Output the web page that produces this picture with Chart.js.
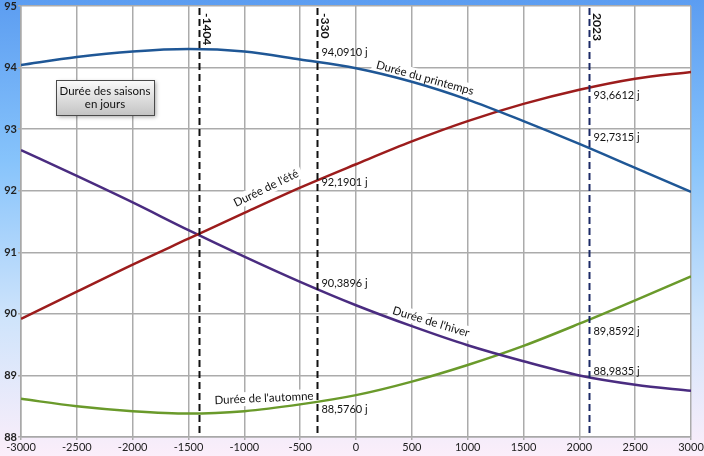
<!DOCTYPE html>
<html>
<head>
<meta charset="utf-8">
<script src="https://cdn.jsdelivr.net/npm/chart.js@4.4.1/dist/chart.umd.min.js"></script>
<style>
  body { margin: 0; }
</style>
</head>
<body>
<canvas id="myChart" width="704" height="456"></canvas>
<script>
// Données
const years = [-3000, -2500, -2000, -1500, -1000, -500, 0, 500, 1000, 1500, 2000, 2500, 3000];
const printemps = [94.04, 94.17, 94.26, 94.30, 94.26, 94.13, 93.99, 93.77, 93.48, 93.13, 92.76, 92.37, 91.98];
const ete = [89.92, 90.36, 90.80, 91.22, 91.64, 92.05, 92.43, 92.80, 93.13, 93.41, 93.64, 93.82, 93.93];
const hiver = [92.66, 92.24, 91.81, 91.36, 90.93, 90.52, 90.14, 89.80, 89.49, 89.23, 89.00, 88.85, 88.75];
const automne = [88.62, 88.50, 88.42, 88.38, 88.42, 88.53, 88.68, 88.90, 89.17, 89.48, 89.84, 90.22, 90.61];

// Lignes verticales
const markerYears = [-1404, -345, 2090];
const markerLabels = ['-1404', '-330', '2023'];
const markerColors = ['#111111', '#111111', '#1c2a66'];

// Valeurs affichées à côté des lignes
const noteX = [-345, -345, -345, -345, 2090, 2090, 2090, 2090];
const noteY = [94.24, 92.13, 90.50, 88.44, 93.54, 92.87, 89.72, 89.07];
const noteText = ['94,0910 j', '92,1901 j', '90,3896 j', '88,5760 j', '93,6612 j', '92,7315 j', '89,8592 j', '88,9835 j'];

// Étiquettes des courbes
const curveText = ['Durée du printemps', "Durée de l'été", "Durée de l'hiver", "Durée de l'automne"];
const curveX = [618, -806, 672, -824];
const curveY = [93.83, 92.04, 89.87, 88.63];
const curveAngle = [15.5, -26, 17, -2.6];

const FONT = 'Lato, "Liberation Sans", sans-serif';

function toPoints(values) {
    return years.map((x, i) => ({ x: x, y: values[i] }));
}

// Fond dégradé + zone de tracé blanche
const backgroundPlugin = {
    id: 'background',
    beforeDraw(chart) {
        const { ctx, width, height, chartArea: a } = chart;
        const g = ctx.createLinearGradient(0, 0, 0, height);
        g.addColorStop(0, '#5c9df1');
        g.addColorStop(0.35, '#86c3fb');
        g.addColorStop(0.7, '#cfe4fb');
        g.addColorStop(1, '#fbeefa');
        ctx.save();
        ctx.fillStyle = g;
        ctx.fillRect(0, 0, width, height);
        ctx.fillStyle = '#ffffff';
        ctx.fillRect(a.left, a.top, a.right - a.left, a.bottom - a.top);
        ctx.restore();
    }
};

// Noms des courbes (fond blanc qui coupe la grille)
const curveLabelPlugin = {
    id: 'curveLabels',
    beforeDatasetsDraw(chart) {
        const { ctx, scales } = chart;
        ctx.save();
        ctx.font = '11.5px ' + FONT;
        ctx.textAlign = 'center';
        ctx.textBaseline = 'middle';
        curveText.forEach((t, i) => {
            const px = scales.x.getPixelForValue(curveX[i]);
            const py = scales.y.getPixelForValue(curveY[i]);
            const w = ctx.measureText(t).width;
            ctx.save();
            ctx.translate(px, py);
            ctx.rotate(curveAngle[i] * Math.PI / 180);
            ctx.fillStyle = '#ffffff';
            ctx.fillRect(-w / 2 - 4, -7, w + 8, 14);
            ctx.fillStyle = '#111111';
            ctx.fillText(t, 0, 0);
            ctx.restore();
        });
        ctx.restore();
    }
};

// Lignes pointillées, valeurs et cadre titre
const markerPlugin = {
    id: 'markers',
    afterDatasetsDraw(chart) {
        const { ctx, scales, chartArea: a } = chart;
        ctx.save();
        markerYears.forEach((yr, i) => {
            const px = Math.round(scales.x.getPixelForValue(yr)) + 0.5;
            ctx.strokeStyle = markerColors[i];
            ctx.lineWidth = 2;
            ctx.setLineDash([7, 4]);
            ctx.beginPath();
            ctx.moveTo(px, a.top + 2);
            ctx.lineTo(px, a.bottom);
            ctx.stroke();

            ctx.save();
            ctx.translate(px + 7, a.top + 7);
            ctx.rotate(Math.PI / 2);
            ctx.font = 'bold 12px ' + FONT;
            ctx.fillStyle = '#111111';
            ctx.textAlign = 'left';
            ctx.textBaseline = 'middle';
            ctx.fillText(markerLabels[i], 0, 0);
            ctx.restore();
        });
        ctx.setLineDash([]);

        ctx.font = '11px ' + FONT;
        ctx.fillStyle = '#111111';
        ctx.textAlign = 'left';
        ctx.textBaseline = 'middle';
        noteText.forEach((t, i) => {
            const px = scales.x.getPixelForValue(noteX[i]);
            const py = scales.y.getPixelForValue(noteY[i]);
            ctx.fillText(t, px + 4, py);
        });

        // Cadre "Durée des saisons en jours"
        const bx = a.left + 35, by = a.top + 74, bw = 98, bh = 35;
        ctx.save();
        ctx.shadowColor = 'rgba(0,0,0,0.35)';
        ctx.shadowBlur = 4;
        ctx.shadowOffsetX = 2;
        ctx.shadowOffsetY = 2;
        const g = ctx.createLinearGradient(0, by, 0, by + bh);
        g.addColorStop(0, '#fbfbfb');
        g.addColorStop(1, '#c4c4c4');
        ctx.fillStyle = g;
        ctx.fillRect(bx, by, bw, bh);
        ctx.restore();
        ctx.strokeStyle = '#4a4a4a';
        ctx.lineWidth = 1;
        ctx.strokeRect(bx + 0.5, by + 0.5, bw, bh);
        ctx.fillStyle = '#111111';
        ctx.textAlign = 'center';
        ctx.font = '11.5px ' + FONT;
        ctx.fillText('Durée des saisons', bx + bw / 2, by + 11);
        ctx.fillText('en jours', bx + bw / 2, by + 24);
        ctx.restore();
    }
};

const ctx = document.getElementById('myChart').getContext('2d');
const myChart = new Chart(ctx, {
    type: 'line',
    data: {
        datasets: [
            { label: 'Durée du printemps', data: toPoints(printemps), borderColor: '#1f5796' },
            { label: "Durée de l'été", data: toPoints(ete), borderColor: '#9c1c1c' },
            { label: "Durée de l'hiver", data: toPoints(hiver), borderColor: '#4a2c80' },
            { label: "Durée de l'automne", data: toPoints(automne), borderColor: '#6a9a2b' }
        ]
    },
    options: {
        responsive: false,
        animation: false,
        devicePixelRatio: 1,
        layout: { padding: { top: 6, right: 13, left: 0, bottom: 0 } },
        elements: {
            line: { borderWidth: 2.5, tension: 0.4, cubicInterpolationMode: 'monotone', fill: false },
            point: { radius: 0 }
        },
        plugins: {
            legend: { display: false },
            tooltip: { enabled: false }
        },
        scales: {
            x: {
                type: 'linear',
                min: -3000,
                max: 3000,
                afterFit(scale) { scale.height = 19; scale.paddingLeft = 0; scale.paddingRight = 0; },
                ticks: {
                    stepSize: 500,
                    maxRotation: 0,
                    padding: 1,
                    color: '#222222',
                    font: { family: FONT, size: 11 },
                    callback: v => String(v)
                },
                grid: { color: '#ababab', lineWidth: 1.5, tickLength: 3 },
                border: { color: '#a8a8a8', width: 1.5 }
            },
            y: {
                min: 88,
                max: 95,
                afterFit(scale) { scale.width = 21; scale.paddingTop = 0; scale.paddingBottom = 0; },
                ticks: {
                    stepSize: 1,
                    padding: 1,
                    color: '#222222',
                    font: { family: FONT, size: 11, weight: 'bold' },
                    callback: v => String(v)
                },
                grid: { color: '#ababab', lineWidth: 1.5, tickLength: 3 },
                border: { color: '#a8a8a8', width: 1.5 }
            }
        }
    },
    plugins: [backgroundPlugin, curveLabelPlugin, markerPlugin]
});
</script>
</body>
</html>
